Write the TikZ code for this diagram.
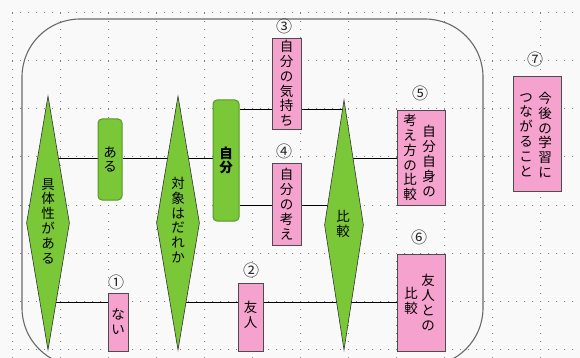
\documentclass[tikz,border=0pt]{standalone}
\usepackage{fontspec}
\newfontfamily\jp{Noto Sans CJK JP}
\usetikzlibrary{shapes.geometric}
\definecolor{pinkbox}{RGB}{246,162,206}
\definecolor{greenbox}{RGB}{122,200,56}
\definecolor{greenedge}{RGB}{88,150,40}
\definecolor{bgcol}{RGB}{249,249,249}
\definecolor{frameedge}{RGB}{105,105,105}
\pgfdeclarelayer{bg}
\pgfdeclarelayer{mid}
\pgfsetlayers{bg,mid,main}
\begin{document}
\begin{tikzpicture}[x=1pt,y=-1pt,
  griddot/.style={line width=1pt, dash pattern=on 1pt off 7pt, black!50},
  frame/.style={draw=frameedge, line width=1.1pt},
  dia/.style={shape=diamond, draw=black!80, fill=greenbox, inner sep=0pt, line width=0.6pt},
  gbox/.style={draw=greenedge, fill=greenbox, rounded corners=4pt, line width=1pt, inner sep=0pt},
  pbox/.style={draw=black!70, fill=pinkbox, line width=0.9pt, inner sep=0pt},
  vcol/.style={font=\jp\fontsize{13.5}{14.8}\selectfont, align=center, inner sep=0pt, text=black},
  num/.style={font=\jp\fontsize{16}{16}\selectfont, inner sep=0pt, text=black!85},
  conn/.style={draw=black, line width=0.9pt}
]
\useasboundingbox (0,0) rectangle (580,358);
\clip (0,0) rectangle (580,358);

% row coordinates for connectors
\coordinate (rthree) at (0,109);
\coordinate (rmid) at (0,158);
\coordinate (rfour) at (0,205);
\coordinate (rbot) at (0,302);

% shapes
\node[dia, minimum width=43pt, minimum height=254pt] (d1) at (48,223) {};
\node[gbox, minimum width=24pt, minimum height=81pt] (aru) at (110,159.5) {};
\node[dia, minimum width=43pt, minimum height=254pt] (d2) at (178,223) {};
\node[gbox, minimum width=26pt, minimum height=121pt] (jibun) at (226,160.5) {};
\node[pbox, minimum width=29pt, minimum height=91pt] (b3) at (286.5,83.5) {};
\node[pbox, minimum width=29pt, minimum height=82pt] (b4) at (286.5,204) {};
\node[dia, minimum width=39pt, minimum height=250pt] (d3) at (344,225) {};
\node[pbox, minimum width=48pt, minimum height=95pt] (b5) at (421,157.5) {};
\node[pbox, minimum width=48pt, minimum height=97pt] (b6) at (421,302.5) {};
\node[pbox, minimum width=48pt, minimum height=115pt] (b7) at (537,133.5) {};
\node[pbox, minimum width=20pt, minimum height=58pt] (b1) at (118,322) {};
\node[pbox, minimum width=25pt, minimum height=68pt] (b2) at (250.5,317) {};

% texts
\node[vcol] (t1) at (48,221) {具\\体\\性\\が\\あ\\る};
\node[vcol] (taru) at (110,159.5) {あ\\る};
\node[vcol] (t2) at (178,220) {対\\象\\は\\だ\\れ\\か};
\node[vcol, font=\jp\bfseries\fontsize{13.5}{14.8}\selectfont] (tjibun) at (226,160.5) {自\\分};
\node[vcol] (t3) at (286.5,83.5) {自\\分\\の\\気\\持\\ち};
\node[vcol] (t4) at (286.5,204) {自\\分\\の\\考\\え};
\node[vcol] (td3) at (343,224) {比\\較};
\node[vcol] (t5a) at (429,161) {自\\分\\自\\身\\の};
\node[vcol] (t5b) at (410,157.5) {考\\え\\方\\の\\比\\較};
\node[vcol] (t6a) at (428,302.5) {友\\人\\と\\の};
\node[vcol] (t6b) at (411,301) {比\\較};
\node[vcol] (t7a) at (545,135) {今\\後\\の\\学\\習\\に};
\node[vcol] (t7b) at (526,135) {つ\\な\\が\\る\\こ\\と};
\node[vcol] (tb1) at (118,322) {な\\い};
\node[vcol] (tb2) at (250.5,315) {友\\人};

% numbers
\node[num] (n1) at (116,282) {①};
\node[num] (n2) at (251,270) {②};
\node[num] (n3) at (284,26) {③};
\node[num] (n4) at (284,151) {④};
\node[num] (n5) at (420,93) {⑤};
\node[num] (n6) at (419,237) {⑥};
\node[num] (n7) at (535,59) {⑦};

\begin{pgfonlayer}{bg}
\fill[bgcol] (0,0) rectangle (580,358);
\foreach \yy in {13,61,...,349} \draw[griddot] (12,\yy) -- (580,\yy);
\foreach \xx in {12,60,...,540} \draw[griddot] (\xx,13) -- (\xx,358);
\draw[frame, rounded corners=58pt] (22,19) rectangle (483,366);
\end{pgfonlayer}

\begin{pgfonlayer}{mid}
\draw[conn] (d1.center |- rmid) -- (aru.west |- rmid);
\draw[conn] (aru.east |- rmid) -- (d2.center |- rmid);
\draw[conn] (d2.center |- rmid) -- (jibun.west |- rmid);
\draw[conn] (jibun.east |- rthree) -- (b3.west |- rthree);
\draw[conn] (jibun.east |- rfour) -- (b4.west |- rfour);
\draw[conn] (b3.east |- rthree) -- (d3.center |- rthree);
\draw[conn] (b4.east |- rfour) -- (d3.center |- rfour);
\draw[conn] (d3.center |- rmid) -- (b5.west |- rmid);
\draw[conn] (d3.center |- rbot) -- (b6.west |- rbot);
\draw[conn] (d1.center |- rbot) -- (b1.west |- rbot);
\draw[conn] (d2.center |- rbot) -- (b2.west |- rbot);
\draw[conn] (b2.east |- rbot) -- (d3.center |- rbot);
\end{pgfonlayer}
\end{tikzpicture}
\end{document}
